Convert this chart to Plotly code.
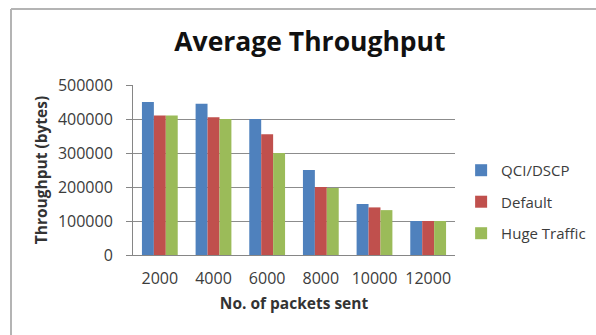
import plotly.graph_objects as go

# Average throughput per number of packets sent
packets = ["2000", "4000", "6000", "8000", "10000", "12000"]
qci_dscp = [450000, 445000, 400000, 250000, 150000, 100000]
default = [410000, 405000, 355000, 200000, 140000, 100000]
huge_traffic = [410000, 400000, 300000, 197000, 132000, 100000]

y_ticks = [0, 100000, 200000, 300000, 400000, 500000]

series = [
    ("QCI/DSCP", qci_dscp, "#4F81BD"),
    ("Default", default, "#C0504D"),
    ("Huge Traffic", huge_traffic, "#9BBB59"),
]

fig = go.Figure()
for name, vals, color in series:
    fig.add_trace(go.Bar(
        x=packets, y=vals, name=name, legendgroup=name,
        marker=dict(color=color, line=dict(width=0)),
    ))

font_family = "'Open Sans', sans-serif"

fig.update_layout(
    width=596, height=335,
    margin=dict(l=133, r=141, t=85, b=80, autoexpand=False),
    paper_bgcolor="white", plot_bgcolor="white",
    barmode="group", bargap=0.333, bargroupgap=0,
    font=dict(family=font_family, color="#3c3c3c", size=16),
    title=dict(
        text="<b>Average Throughput</b>",
        font=dict(family=font_family, size=26.5, color="#111111"),
        x=0.52, xanchor="center", y=0.875, yanchor="middle",
    ),
    xaxis=dict(
        title=dict(text="<b>No. of packets sent</b>", font=dict(size=15.5, color="#333333"), standoff=9),
        showline=True, linecolor="#868686", linewidth=1,
        ticks="", tickfont=dict(size=16, color="#3c3c3c"),
        ticklabelstandoff=9,
        showgrid=False,
    ),
    yaxis=dict(
        title=dict(text="<b>Throughput (bytes)</b>", font=dict(size=15.5, color="#333333"), standoff=6),
        range=[0, 500000], tickvals=y_ticks, ticktext=[str(v) for v in y_ticks],
        showline=True, linecolor="#868686", linewidth=1,
        ticks="outside", ticklen=6, tickcolor="#868686",
        ticklabelstandoff=10,
        showgrid=True, gridcolor="#8c8c8c", gridwidth=1,
        tickfont=dict(size=16, color="#3c3c3c"),
        zeroline=False,
    ),
    legend=dict(
        x=1.019, y=0.312, xanchor="left", yanchor="middle",
        font=dict(size=15, color="#3c3c3c"),
        tracegroupgap=9, itemwidth=30,
        bgcolor="rgba(0,0,0,0)",
    ),
    showlegend=True,
)

# Chart frame: left and top edges
fig.add_shape(type="line", xref="paper", yref="paper",
              x0=(11 - 133) / 322, x1=(600 - 133) / 322,
              y0=1 + (85 - 9) / 170, y1=1 + (85 - 9) / 170,
              line=dict(color="#b4b4b4", width=2))
fig.add_shape(type="line", xref="paper", yref="paper",
              x0=(11 - 133) / 322, x1=(11 - 133) / 322,
              y0=1 + (85 - 9) / 170, y1=1 + (85 - 340) / 170,
              line=dict(color="#b4b4b4", width=2))

fig.write_html("out.html")
